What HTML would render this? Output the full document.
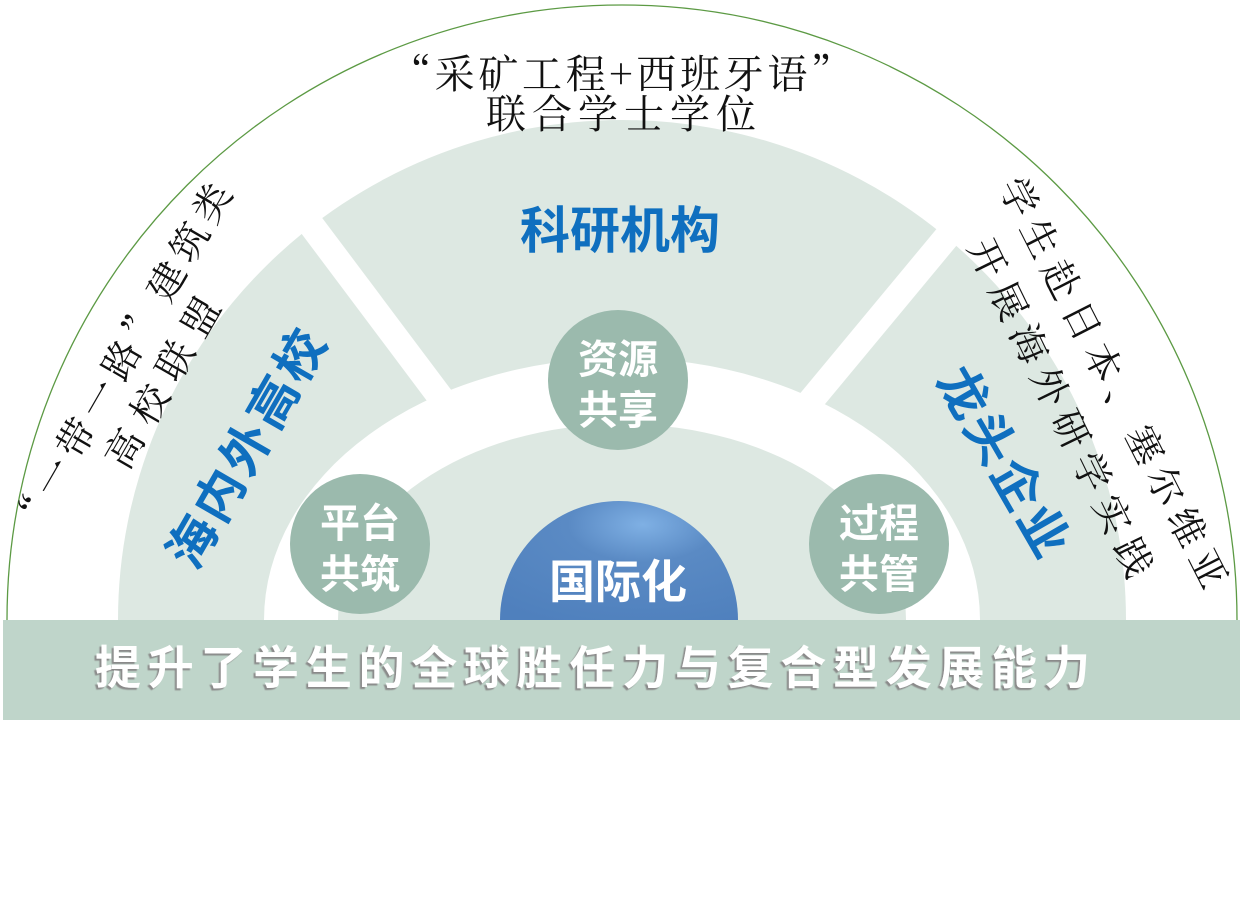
<!DOCTYPE html>
<html><head><meta charset="utf-8"><style>
html,body{margin:0;padding:0;background:#fff;}
svg{display:block}
.s{font-family:"Noto Serif CJK SC","Liberation Serif",serif;fill:#111;}
.b{font-family:"Liberation Sans","Noto Sans CJK SC",sans-serif;font-weight:bold;}
</style></head><body>
<svg width="1242" height="904" viewBox="0 0 1242 904" xmlns="http://www.w3.org/2000/svg">
<defs>
<radialGradient id="g" cx="0.6" cy="0.2" r="0.9">
<stop offset="0" stop-color="#7fb0e4"/><stop offset="0.35" stop-color="#5a8ac4"/><stop offset="1" stop-color="#4f80bd"/>
</radialGradient>
<filter id="sh"><feDropShadow dx="-2" dy="2" stdDeviation="0.6" flood-color="#8a8a8a"/></filter>
<clipPath id="c"><rect x="0" y="0" width="1242" height="620"/></clipPath>
</defs>
<path d="M7 620 A615 615 0 0 1 1237 620" fill="#fff" stroke="#5c9a44" stroke-width="1.3"/>
<g clip-path="url(#c)">
<path d="M118 620 A504 500 0 0 1 1126 620 Z" fill="#dde8e2"/>
<line x1="480" y1="450" x2="285" y2="190" stroke="#fff" stroke-width="26"/>
<line x1="770" y1="450" x2="965" y2="215" stroke="#fff" stroke-width="26"/>
<ellipse cx="622" cy="620" rx="358" ry="262" fill="#fff"/>
<ellipse cx="622" cy="620" rx="284" ry="196" fill="#dde8e2"/>
<circle cx="618" cy="380" r="70" fill="#9bbaad"/>
<circle cx="360" cy="544" r="70" fill="#9bbaad"/>
<circle cx="879" cy="544" r="70" fill="#9bbaad"/>
<path d="M500 620 A119 119 0 0 1 738 620 Z" fill="url(#g)"/>
</g>
<rect x="3" y="620" width="1237" height="100" fill="#bfd5ca"/>
<g class="b" fill="#fff" font-size="40" text-anchor="middle">
<text x="618" y="373">资源</text><text x="618" y="424">共享</text>
<text x="360" y="537">平台</text><text x="360" y="588">共筑</text>
<text x="879" y="537">过程</text><text x="879" y="588">共管</text>
<text x="618" y="598" font-size="46">国际化</text>
</g>
<text class="b" x="95" y="684" font-size="46" fill="#fff" filter="url(#sh)" textLength="995" lengthAdjust="spacing">提升了学生的全球胜任力与复合型发展能力</text>
<g class="b" fill="#0f6fbf" text-anchor="middle" font-size="50">
<text x="620" y="248">科研机构</text>
<text transform="translate(247,449) rotate(-60)" y="17" textLength="265" lengthAdjust="spacing">海内外高校</text>
<text transform="translate(1003,462) rotate(60)" y="17" textLength="210" lengthAdjust="spacing">龙头企业</text>
</g>
<g class="s" font-size="38" text-anchor="middle">
<text x="621" y="88" font-size="40" textLength="460" lengthAdjust="spacing">“采矿工程+西班牙语”</text>
<text x="621" y="128" font-size="40" textLength="270" lengthAdjust="spacing">联合学士学位</text>
<text transform="translate(122,360) rotate(-60)" y="13" textLength="400" lengthAdjust="spacing">“一带一路”建筑类</text>
<text transform="translate(163,383) rotate(-60)" y="13" textLength="190" lengthAdjust="spacing">高校联盟</text>
<text transform="translate(1113,383) rotate(63)" y="13" textLength="455" lengthAdjust="spacing">学生赴日本、塞尔维亚</text>
<text transform="translate(1060,408) rotate(64)" y="13" textLength="371" lengthAdjust="spacing">开展海外研学实践</text>
</g>
</svg>
</body></html>
